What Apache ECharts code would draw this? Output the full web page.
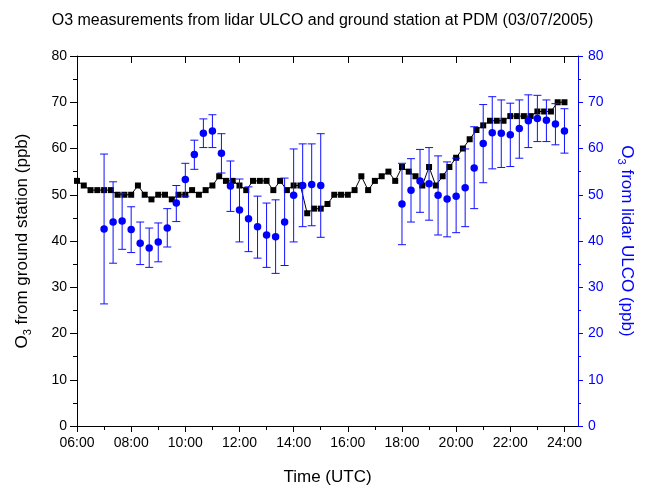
<!DOCTYPE html>
<html>
<head>
<meta charset="utf-8">
<script src="https://cdn.jsdelivr.net/npm/echarts@6/dist/echarts.min.js"></script>
<style>html,body{margin:0;padding:0;background:#fff;}#c{width:645px;height:491px;}</style>
</head>
<body>
<div id="c"></div>
<script>
// ---- Data ----
const groundTimes = ["06:00","06:15","06:30","06:45","07:00","07:15","07:30","07:45","08:00","08:15","08:30","08:45",
  "09:00","09:15","09:30","09:45","10:00","10:15","10:30","10:45","11:00","11:15","11:30","11:45",
  "12:00","12:15","12:30","12:45","13:00","13:15","13:30","13:45","14:00","14:15","14:30","14:45",
  "15:00","15:15","15:30","15:45","16:00","16:15","16:30","16:45","17:00","17:15","17:30","17:45",
  "18:00","18:15","18:30","18:45","19:00","19:15","19:30","19:45","20:00","20:15","20:30","20:45",
  "21:00","21:15","21:30","21:45","22:00","22:15","22:30","22:45","23:00","23:15","23:30","23:45","24:00"];
const groundO3 = [53,52,51,51,51,51,50,50,50,52,50,49,
  50,50,49,50,50,51,50,51,52,54,53,53,
  52,51,53,53,53,51,53,51,52,52,46,47,
  47,48,50,50,50,51,54,51,53,54,55,53,
  56,55,54,52,56,52,54,56,58,60,62,64,
  65,66,66,66,67,67,67,67,68,68,68,70,70];

const lidarTimes = ["07:00","07:20","07:40","08:00","08:20","08:40","09:00","09:20","09:40","10:00","10:20","10:40",
  "11:00","11:20","11:40","12:00","12:20","12:40","13:00","13:20","13:40","14:00","14:20","14:40","15:00",
  "18:00","18:20","18:40","19:00","19:20","19:40","20:00","20:20","20:40","21:00","21:20","21:40",
  "22:00","22:20","22:40","23:00","23:20","23:40","24:00"];
const lidarO3 = [42.6,44.1,44.3,42.5,39.5,38.5,39.8,42.8,48.2,53.3,58.7,63.3,
  63.8,59.0,51.9,46.7,44.8,43.1,41.3,40.9,44.1,49.9,52.0,52.2,52.0,
  48.0,51.0,53.0,52.4,49.9,49.1,49.7,51.5,55.8,61.1,63.4,63.3,
  63.0,64.3,66.0,66.5,66.1,65.3,63.8];
const lidarLow = [26.4,35.2,38.2,37.5,34.9,34.3,35.5,38.7,44.2,49.7,55.5,60.2,
  60.2,54.7,46.4,39.8,37.7,36.3,34.3,33.0,34.7,39.8,43.1,43.3,40.8,
  39.2,44.1,46.2,44.5,41.3,40.9,41.8,43.1,47.0,52.6,55.6,55.9,
  56.1,57.9,60.2,61.5,61.5,60.8,59.0];
const lidarHigh = [58.8,52.8,50.3,47.4,44.1,42.8,43.9,47.0,52.0,56.8,61.8,66.4,
  67.3,63.2,57.3,53.4,51.7,49.7,48.2,48.9,53.6,59.9,61.0,61.0,63.2,
  56.8,57.8,59.8,60.2,58.4,57.1,57.9,59.9,64.7,69.5,71.2,70.5,
  69.8,70.5,71.6,71.5,70.5,69.7,68.6];

const majorHours = [6,8,10,12,14,16,18,20,22,24];
const minorHours = [7,9,11,13,15,17,19,21,23];

// ---- Helpers ----
function toHours(s){ const p = s.split(':'); return Number(p[0]) + Number(p[1]) / 60; }
function hourLabel(v){ return (v < 10 ? '0' : '') + v + ':00'; }

const FONT = '"Liberation Sans", Arial, sans-serif';
const BLUE = '#0000ff';
const groundData = groundTimes.map((t, i) => [toHours(t), groundO3[i]]);
const lidarData = lidarTimes.map((t, i) => [toHours(t), lidarO3[i]]);
const errData = lidarTimes.map((t, i) => [toHours(t), lidarLow[i], lidarHigh[i]]);

const chart = echarts.init(document.getElementById('c'), null, {renderer: 'canvas'});

function xAx(opts){
  return Object.assign({
    type: 'value', min: 6, max: 24.5,
    splitLine: {show: false},
    axisLine: {show: true, onZero: false, lineStyle: {color: '#000', width: 1}},
    axisLabel: {show: false},
    axisTick: {show: false},
    minorTick: {show: false}
  }, opts);
}

const option = {
  backgroundColor: '#fff',
  animation: false,
  title: {
    text: 'O3 measurements from lidar ULCO and ground station at PDM (03/07/2005)',
    left: 'center', top: 8,
    textStyle: {fontFamily: FONT, fontSize: 16, fontWeight: 'normal', color: '#000'}
  },
  grid: {left: 77, right: 67, top: 56, bottom: 64, containLabel: false},
  xAxis: [
    xAx({
      position: 'bottom',
      name: 'Time (UTC)', nameLocation: 'middle', nameGap: 43,
      nameTextStyle: {fontFamily: FONT, fontSize: 17, color: '#000'},
      axisTick: {show: true, inside: false, length: 6, customValues: majorHours, lineStyle: {color: '#000'}},
      axisLabel: {show: true, margin: 10, customValues: majorHours, fontFamily: FONT, fontSize: 14, color: '#000',
        formatter: v => hourLabel(v)}
    }),
    xAx({
      position: 'bottom', axisLine: {show: false},
      axisTick: {show: true, inside: false, length: 3, customValues: minorHours, lineStyle: {color: '#000'}}
    }),
    xAx({
      position: 'top',
      axisTick: {show: true, inside: true, length: 7, customValues: majorHours, lineStyle: {color: '#000'}}
    }),
    xAx({
      position: 'top', axisLine: {show: false},
      axisTick: {show: true, inside: true, length: 4, customValues: minorHours, lineStyle: {color: '#000'}}
    })
  ],
  yAxis: [
    {
      type: 'value', min: 0, max: 80, interval: 10, position: 'left',
      name: '{n|O}{s|3}{n| from ground station (ppb)}',
      nameLocation: 'middle', nameGap: 44,
      nameTextStyle: {
        fontFamily: FONT, fontSize: 17, color: '#000',
        rich: {
          n: {fontFamily: FONT, fontSize: 17, color: '#000', verticalAlign: 'middle'},
          s: {fontFamily: FONT, fontSize: 11, color: '#000', verticalAlign: 'middle', padding: [11, 0, 0, 0]}
        }
      },
      splitLine: {show: false},
      axisLine: {show: true, onZero: false, lineStyle: {color: '#000', width: 1}},
      axisTick: {show: true, inside: false, length: 7, lineStyle: {color: '#000'}},
      minorTick: {show: true, splitNumber: 2, length: 4, lineStyle: {color: '#000'}},
      axisLabel: {margin: 10, fontFamily: FONT, fontSize: 14, color: '#000'}
    },
    {
      type: 'value', min: 0, max: 80, interval: 10, position: 'right',
      name: '{n|O}{s|3}{n| from lidar ULCO (ppb)}',
      nameLocation: 'middle', nameGap: 38, nameRotate: -90,
      nameTextStyle: {
        fontFamily: FONT, fontSize: 17, color: BLUE,
        rich: {
          n: {fontFamily: FONT, fontSize: 17, color: BLUE, verticalAlign: 'middle'},
          s: {fontFamily: FONT, fontSize: 11, color: BLUE, verticalAlign: 'middle', padding: [11, 0, 0, 0]}
        }
      },
      splitLine: {show: false},
      axisLine: {show: true, onZero: false, lineStyle: {color: BLUE, width: 1}},
      axisTick: {show: true, inside: false, length: 5, lineStyle: {color: BLUE}},
      minorTick: {show: true, splitNumber: 2, length: 3, lineStyle: {color: BLUE}},
      axisLabel: {margin: 10, fontFamily: FONT, fontSize: 14, color: BLUE}
    }
  ],
  series: [
    {
      name: 'ground', type: 'line', xAxisIndex: 0, yAxisIndex: 0,
      data: groundData,
      symbol: 'rect', symbolSize: 6,
      itemStyle: {color: '#000'},
      lineStyle: {color: '#000', width: 1},
      z: 2
    },
    {
      name: 'lidarErr', type: 'custom', xAxisIndex: 0, yAxisIndex: 1,
      data: errData,
      encode: {x: 0, y: [1, 2]},
      renderItem: function(params, api){
        const x = api.value(0);
        const lo = api.coord([x, api.value(1)]);
        const hi = api.coord([x, api.value(2)]);
        const hw = 4;
        const st = {stroke: '#1010ff', lineWidth: 1};
        return {type: 'group', children: [
          {type: 'line', shape: {x1: hi[0], y1: hi[1], x2: lo[0], y2: lo[1]}, style: st},
          {type: 'line', shape: {x1: hi[0] - hw, y1: hi[1], x2: hi[0] + hw, y2: hi[1]}, style: st},
          {type: 'line', shape: {x1: lo[0] - hw, y1: lo[1], x2: lo[0] + hw, y2: lo[1]}, style: st}
        ]};
      },
      z: 3
    },
    {
      name: 'lidar', type: 'scatter', xAxisIndex: 0, yAxisIndex: 1,
      data: lidarData,
      symbol: 'circle', symbolSize: 7.5,
      itemStyle: {color: BLUE, opacity: 1},
      z: 4
    }
  ]
};
chart.setOption(option);
</script>
</body>
</html>
